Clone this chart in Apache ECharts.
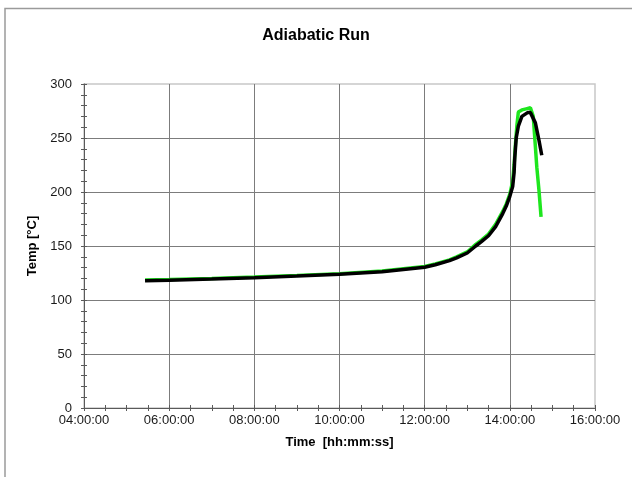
<!DOCTYPE html>
<html>
<head>
<meta charset="utf-8">
<script src="https://cdn.jsdelivr.net/npm/echarts@6/dist/echarts.min.js"></script>
<style>
  html, body { margin: 0; padding: 0; background: #fff; }
  #chart { width: 632px; height: 477px; }
</style>
</head>
<body>
<div id="chart"></div>
<script>
// Reactor temperature during the adiabatic run (two thermocouples)
const xTickLabels = ['04:00:00', '06:00:00', '08:00:00', '10:00:00', '12:00:00', '14:00:00', '16:00:00'];
const yTicks = [0, 50, 100, 150, 200, 250, 300];

const timesBlack = ['05:26', '06:00', '07:00', '08:00', '09:00', '10:00', '11:00', '12:00', '12:15', '12:35',
  '12:45', '13:00', '13:12', '13:20', '13:30', '13:40', '13:50', '13:55', '14:00', '14:04',
  '14:06', '14:07', '14:09', '14:12', '14:17', '14:25', '14:29', '14:36', '14:41', '14:45'];
const tempBlack = [117.9, 118.3, 119.4, 120.7, 122.2, 123.8, 126.2, 130.3, 132.6, 136.4,
  139, 143.5, 150, 154, 159.5, 168, 180, 187, 196, 205,
  218, 232, 250, 261, 270, 273.5, 273.5, 264, 248, 234];

const timesGreen = ['05:26', '06:00', '07:00', '08:00', '09:00', '10:00', '11:00', '12:00', '12:15', '12:35',
  '12:45', '13:00', '13:12', '13:20', '13:30', '13:40', '13:50', '13:55', '14:00', '14:04',
  '14:06', '14:08', '14:10', '14:12', '14:17', '14:23', '14:29', '14:33', '14:36', '14:38',
  '14:41', '14:44'];
const tempGreen = [118.5, 118.9, 120.0, 121.3, 122.8, 124.4, 126.8, 131, 133.4, 137.2,
  140, 144.5, 151.5, 155.5, 161, 170, 182, 189, 198, 210,
  225, 245, 262, 274, 276, 277, 278, 270, 242, 223,
  202, 177];

function toHours(s) {
  const p = s.split(':');
  return Number(p[0]) + Number(p[1]) / 60;
}
function pairs(times, temps) {
  return times.map((t, i) => [toHours(t), temps[i]]);
}

const FONT = '"Liberation Sans", Arial, sans-serif';
const axisGrey = '#5a5a5a';

const chart = echarts.init(document.getElementById('chart'), null, { renderer: 'canvas' });

const xMin = toHours(xTickLabels[0]);
const xMax = toHours(xTickLabels[xTickLabels.length - 1]);

chart.setOption({
  backgroundColor: '#ffffff',
  animation: false,
  title: {
    text: 'Adiabatic Run',
    left: 'center',
    top: 23,
    textStyle: { fontFamily: FONT, fontSize: 16, fontWeight: 'bold', color: '#000' }
  },
  graphic: [{
    type: 'rect',
    shape: { x: 5, y: 8.5, width: 700, height: 600 },
    style: { fill: 'none', stroke: '#9a9a9a', lineWidth: 1.5 },
    silent: true
  }],
  grid: {
    left: 84, right: 37, top: 84, bottom: 69,
    show: true, borderColor: '#c8c8c8', borderWidth: 1.5, backgroundColor: '#fff'
  },
  xAxis: [{
    type: 'value', min: xMin, max: xMax, interval: 2,
    name: 'Time  [hh:mm:ss]', nameLocation: 'middle', nameGap: 28,
    nameTextStyle: { fontFamily: FONT, fontSize: 13, fontWeight: 'bold', color: '#000' },
    axisLine: { show: true, lineStyle: { color: axisGrey, width: 1 } },
    axisTick: { show: true, length: 3, lineStyle: { color: axisGrey } },
    minorTick: { show: true, splitNumber: 4, length: 3, lineStyle: { color: axisGrey } },
    axisLabel: {
      fontFamily: FONT, fontSize: 13, color: '#1a1a1a', margin: 6,
      formatter: v => xTickLabels[Math.round((v - xMin) / 2)]
    },
    splitLine: { show: true, showMaxLine: false, lineStyle: { color: '#7c7c7c', width: 1 } }
  }, {
    type: 'value', min: xMin, max: xMax, interval: 2, position: 'bottom',
    axisLine: { show: false },
    axisTick: { show: true, inside: true, length: 3, lineStyle: { color: axisGrey } },
    minorTick: { show: true, splitNumber: 4, length: 3, lineStyle: { color: axisGrey } },
    axisLabel: { show: false },
    splitLine: { show: false }
  }],
  yAxis: [{
    type: 'value', min: yTicks[0], max: yTicks[yTicks.length - 1], interval: 50,
    name: 'Temp [°C]', nameLocation: 'middle', nameGap: 44,
    nameTextStyle: { fontFamily: FONT, fontSize: 13, fontWeight: 'bold', color: '#000' },
    axisLine: { show: true, lineStyle: { color: axisGrey, width: 1 } },
    axisTick: { show: true, length: 3, lineStyle: { color: axisGrey } },
    minorTick: { show: true, splitNumber: 5, length: 3, lineStyle: { color: axisGrey } },
    axisLabel: { fontFamily: FONT, fontSize: 13, color: '#1a1a1a', margin: 12 },
    splitLine: { show: true, showMaxLine: false, lineStyle: { color: '#7c7c7c', width: 1 } }
  }, {
    type: 'value', min: yTicks[0], max: yTicks[yTicks.length - 1], interval: 50, position: 'left',
    axisLine: { show: false },
    axisTick: { show: true, inside: true, length: 3, lineStyle: { color: axisGrey } },
    minorTick: { show: true, splitNumber: 5, length: 3, lineStyle: { color: axisGrey } },
    axisLabel: { show: false },
    splitLine: { show: false }
  }],
  series: [{
    name: 'T2',
    type: 'line',
    data: pairs(timesGreen, tempGreen),
    showSymbol: false,
    lineStyle: { color: '#1ee61e', width: 3.5 },
    itemStyle: { color: '#1ee61e' },
    z: 3
  }, {
    name: 'T1',
    type: 'line',
    data: pairs(timesBlack, tempBlack),
    showSymbol: false,
    lineStyle: { color: '#000000', width: 3.5 },
    itemStyle: { color: '#000000' },
    z: 4
  }]
});
</script>
</body>
</html>
